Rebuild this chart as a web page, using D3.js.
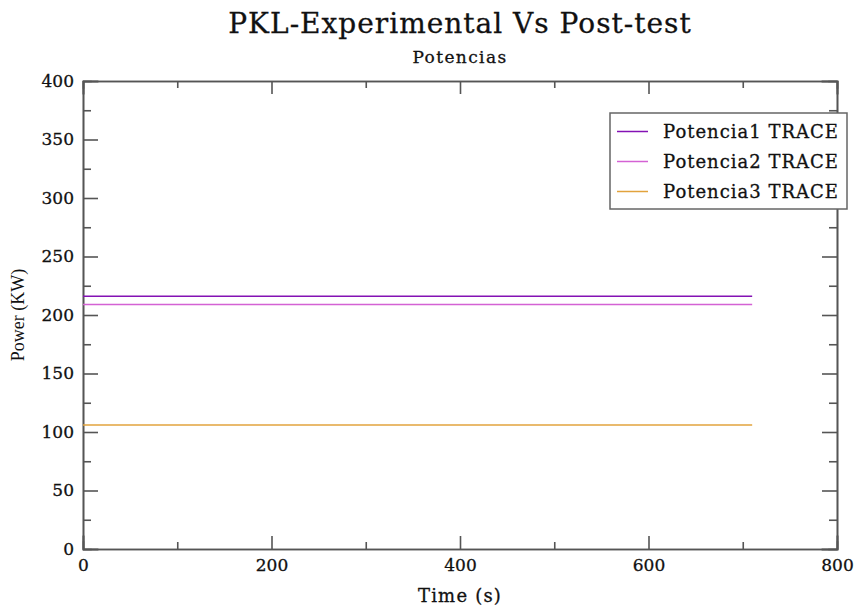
<!DOCTYPE html>
<html>
<head>
<meta charset="utf-8">
<script src="https://cdn.jsdelivr.net/npm/d3@7.9.0/dist/d3.min.js"></script>
<style>
  body { margin: 0; background: #fff; }
  svg { display: block; }
  .axis path, .axis line { stroke: #555; stroke-width: 1.6; }
  .axis text { font-family: "DejaVu Serif", serif; font-size: 17px; fill: #111; stroke: #111; stroke-width: 0.3; }
  .lbl { font-family: "DejaVu Serif", serif; fill: #111; stroke: #111; stroke-width: 0.3; }
</style>
</head>
<body>
<svg width="858" height="608"></svg>
<script>
// data
const seriesNames = ['Potencia1 TRACE', 'Potencia2 TRACE', 'Potencia3 TRACE'];
const seriesColors = ['#8412b4', '#d462d4', '#e2a33c'];
const timeValues = [0, 710];
const potencia1 = [216, 216];
const potencia2 = [209, 209];
const potencia3 = [106, 106];
const xMajorTicks = [0, 200, 400, 600, 800];
const xMinorTicks = [100, 300, 500, 700];
const yMajorTicks = [0, 50, 100, 150, 200, 250, 300, 350, 400];
const yMinorTicks = [25, 75, 125, 175, 225, 275, 325, 375];

const svg = d3.select('svg');
const margin = { left: 83, right: 21, top: 81, bottom: 59 };
const width = 858, height = 608;

const x = d3.scaleLinear().domain([0, 800]).range([margin.left, width - margin.right]);
const y = d3.scaleLinear().domain([0, 400]).range([height - margin.bottom, margin.top]);

// ticks (inward) on all four sides
function drawAxis(axis, transform, labels) {
  const g = svg.append('g').attr('class', 'axis').attr('transform', transform).call(axis);
  if (!labels) g.selectAll('text').remove();
  return g;
}
const bottomY = `translate(0,${y(0)})`, topY = `translate(0,${y(400)})`;
const leftX = `translate(${x(0)},0)`, rightX = `translate(${x(800)},0)`;

drawAxis(d3.axisBottom(x).tickValues(xMajorTicks).tickSize(-13).tickPadding(10).tickFormat(d3.format('d')), bottomY, true);
drawAxis(d3.axisBottom(x).tickValues(xMinorTicks).tickSize(-7), bottomY, false);
drawAxis(d3.axisTop(x).tickValues(xMajorTicks).tickSize(-13), topY, false);
drawAxis(d3.axisTop(x).tickValues(xMinorTicks).tickSize(-7), topY, false);
drawAxis(d3.axisLeft(y).tickValues(yMajorTicks).tickSize(-15).tickPadding(9).tickFormat(d3.format('d')), leftX, true);
drawAxis(d3.axisLeft(y).tickValues(yMinorTicks).tickSize(-8), leftX, false);
drawAxis(d3.axisRight(y).tickValues(yMajorTicks).tickSize(-15), rightX, false);
drawAxis(d3.axisRight(y).tickValues(yMinorTicks).tickSize(-8), rightX, false);
svg.selectAll('.axis path').attr('stroke-linecap', 'square');

// series lines
const line = d3.line().x(d => x(d[0])).y(d => y(d[1]));
[potencia1, potencia2, potencia3].forEach((vals, i) => {
  svg.append('path')
    .datum(timeValues.map((t, j) => [t, vals[j]]))
    .attr('d', line)
    .attr('fill', 'none')
    .attr('stroke', seriesColors[i])
    .attr('stroke-width', 1.5);
});

// titles
const cx = (x(0) + x(800)) / 2;
svg.append('text').attr('class', 'lbl').attr('x', cx).attr('y', 33).attr('text-anchor', 'middle')
  .style('font-size', '28px').style('letter-spacing', '1px')
  .text('PKL-Experimental Vs Post-test');
svg.append('text').attr('class', 'lbl').attr('x', cx).attr('y', 63).attr('text-anchor', 'middle')
  .style('font-size', '17px').style('letter-spacing', '1.4px')
  .text('Potencias');
svg.append('text').attr('class', 'lbl').attr('x', cx).attr('y', 602).attr('text-anchor', 'middle')
  .style('font-size', '18px').style('letter-spacing', '1.2px')
  .text('Time (s)');
svg.append('text').attr('transform', `translate(24,${(y(0) + y(400)) / 2}) rotate(-90)`)
  .attr('text-anchor', 'middle')
  .style('font-family', '"Liberation Serif", serif').style('font-size', '18px').attr('fill', '#111')
  .text('Power (KW)');

// legend
const legend = svg.append('g').attr('transform', 'translate(610,113)');
legend.append('rect').attr('width', 237).attr('height', 96)
  .attr('fill', '#fff').attr('stroke', '#666').attr('stroke-width', 1.5);
seriesNames.forEach((name, i) => {
  const ly = 18.5 + i * 30;
  legend.append('line').attr('x1', 7).attr('x2', 38).attr('y1', ly).attr('y2', ly)
    .attr('stroke', seriesColors[i]).attr('stroke-width', 1.5);
  legend.append('text').attr('class', 'lbl').attr('x', 53).attr('y', ly + 6.5)
    .style('font-size', '18px').style('letter-spacing', '1px')
    .text(name);
});
</script>
</body>
</html>
